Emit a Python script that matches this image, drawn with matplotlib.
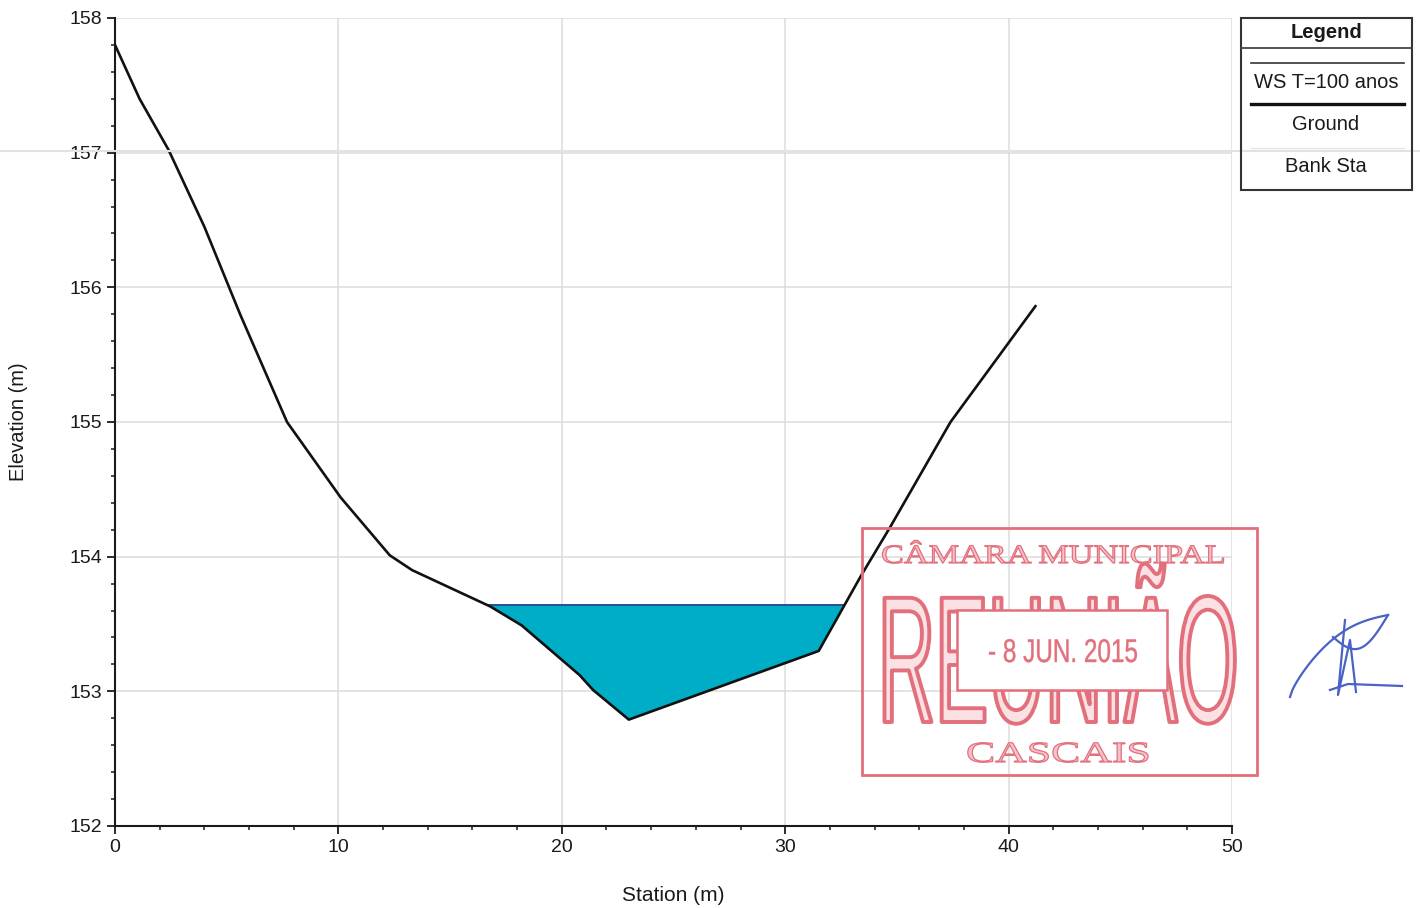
import numpy as np
import matplotlib
matplotlib.use("Agg")
import matplotlib.pyplot as plt
from matplotlib import patheffects
from matplotlib.colors import to_rgba
from matplotlib.transforms import Affine2D
from matplotlib.patches import Rectangle

plt.rcParams['font.family'] = ['Liberation Sans', 'DejaVu Sans']

# Profil en travers (HEC-RAS)
station = [0, 1.1, 2.4, 4.0, 5.6, 7.7, 10.1, 12.3, 13.3, 16.8, 18.2,
           20.8, 21.4, 23.0, 31.5, 33.4, 34.7, 37.4, 41.2]
terrain = [157.8, 157.4, 157.02, 156.45, 155.8, 155.0, 154.44,
           154.01, 153.9, 153.63, 153.49, 153.12, 153.01, 152.79, 153.30, 153.86,
           154.22, 155.0, 155.86]
niveau_eau = 153.64

x_ticks = [0, 10, 20, 30, 40, 50]
y_ticks = [152, 153, 154, 155, 156, 157, 158]
legende = ["WS T=100 anos", "Ground", "Bank Sta"]

ROUGE = '#e26f7c'


class Etire(patheffects.AbstractPathEffect):
    # dessine le texte étiré (effet tampon)
    def __init__(self, sx, sy, face, edge, lw):
        super().__init__()
        self.sx, self.sy = sx, sy
        self.face, self.edge, self.lw = to_rgba(face), edge, lw

    def draw_path(self, renderer, gc, tpath, affine, rgbFace):
        gc0 = renderer.new_gc()
        gc0.copy_properties(gc)
        gc0.set_foreground(self.edge)
        gc0.set_linewidth(self.lw)
        renderer.draw_path(gc0, tpath, Affine2D().scale(self.sx, self.sy) + affine, self.face)
        gc0.restore()


def croisements(x, z, ws):
    pts = []
    for i in range(len(x) - 1):
        if (z[i] - ws) * (z[i + 1] - ws) < 0:
            pts.append(x[i] + (ws - z[i]) * (x[i + 1] - x[i]) / (z[i + 1] - z[i]))
    return pts


x = np.array(station)
z = np.array(terrain)

fig = plt.figure(figsize=(14.2, 9.08), dpi=100)
ax = fig.add_axes([115 / 1420, 1 - 826 / 908, (1232 - 115) / 1420, (826 - 18) / 908])

ax.fill_between(x, z, niveau_eau, where=z <= niveau_eau, interpolate=True,
                color='#00adc6', lw=0, zorder=2)
c = croisements(x, z, niveau_eau)
ax.plot([c[0], c[-1]], [niveau_eau, niveau_eau], color='#1d3f8f', lw=1.3, zorder=3)
ax.plot(x, z, color='#111111', lw=1.9, zorder=4)

ax.set_xlim(0, 50)
ax.set_ylim(152, 158)
ax.set_xticks(x_ticks)
ax.set_yticks(y_ticks)
ax.set_xticks(np.arange(0, 51, 2), minor=True)
ax.set_yticks(np.arange(152, 158.01, 0.2), minor=True)
ax.tick_params(which='major', length=6, width=1.3, labelsize=14, colors='#1a1a1a', pad=3)
ax.tick_params(which='minor', length=3, width=1.1, colors='#1a1a1a')
ax.grid(True, which='major', color='#dcdcdc', lw=1.1, zorder=0)
for s in ['top', 'right']:
    ax.spines[s].set_visible(False)
for s in ['left', 'bottom']:
    ax.spines[s].set_linewidth(1.5)
    ax.spines[s].set_color('#1a1a1a')
ax.set_xlabel('Station (m)', fontsize=15, color='#1a1a1a', labelpad=22)
ax.set_ylabel('Elevation (m)', fontsize=14.5, color='#1a1a1a', labelpad=30)

# calque en pixels pour la légende et le tampon
ov = fig.add_axes([0, 0, 1, 1], zorder=5)
ov.set_xlim(0, 1420)
ov.set_ylim(908, 0)
ov.axis('off')
ov.patch.set_alpha(0)

# trait de numérisation
ov.plot([0, 1420], [151, 151], color='#e2e2e2', lw=1.5, zorder=0)

# légende
ov.add_patch(Rectangle((1241, 18), 171, 172, fill=False, ec='#333333', lw=1.5))
ov.text(1326, 33, "Legend", ha='center', va='center', fontsize=14.5, weight='bold', color='#1a1a1a')
ov.plot([1241, 1412], [48, 48], color='#444444', lw=1.3)
ov.plot([1251, 1404], [63, 63], color='#333333', lw=1.2)
ov.text(1326, 82, legende[0], ha='center', va='center', fontsize=14.5, color='#1a1a1a')
ov.plot([1251, 1404], [104, 104], color='#111111', lw=2.4)
ov.text(1326, 125, legende[1], ha='center', va='center', fontsize=14.5, color='#1a1a1a')
ov.plot([1251, 1404], [148, 148], color='#e4e4e4', lw=1.0)
ov.text(1326, 167, legende[2], ha='center', va='center', fontsize=14.5, color='#1a1a1a')

# tampon
ov.add_patch(Rectangle((862, 528), 395, 247, fill=False, ec=ROUGE, lw=2.0, zorder=6))
ov.text(881, 563, "CÂMARA MUNICIPAL", ha='left', va='baseline', fontsize=19,
        family='Liberation Serif', color=ROUGE, zorder=7,
        path_effects=[Etire(1.3, 1.0, '#f4c3c9', ROUGE, 0.9)])
ov.text(878, 722, "REUNIÃO", ha='left', va='baseline', fontsize=57, color=ROUGE, zorder=7,
        path_effects=[Etire(1.0, 2.28, '#fbe1e4', ROUGE, 2.8)])
ov.add_patch(Rectangle((957, 610), 210, 80, fc='white', ec=ROUGE, lw=1.8, zorder=8))
ov.text(988, 662, "- 8 JUN. 2015", ha='left', va='baseline', fontsize=17.5, color=ROUGE, zorder=9,
        path_effects=[Etire(1.0, 1.35, ROUGE, ROUGE, 0.3)])
ov.text(966, 762, "CASCAIS", ha='left', va='baseline', fontsize=21, family='Liberation Serif',
        color=ROUGE, zorder=7, path_effects=[Etire(1.5, 1.0, '#f4c3c9', ROUGE, 0.9)])

# signature
BLEU = '#4a62c6'
t = np.linspace(0, 1, 40)
ov.plot(1290 + 98 * t, 697 - 82 * t ** 0.7 - 12 * np.sin(np.pi * t), color=BLEU, lw=1.6, zorder=7)
ov.plot(1388 - 55 * t, 615 + 22 * np.sin(np.pi * t) + 22 * t, color=BLEU, lw=1.6, zorder=7)
ov.plot([1345, 1338, 1350, 1356], [620, 695, 640, 692], color=BLEU, lw=1.6, zorder=7)
ov.plot([1330, 1348, 1402], [690, 684, 686], color=BLEU, lw=1.6, zorder=7)

fig.savefig('out.png', dpi=100, facecolor='white')
